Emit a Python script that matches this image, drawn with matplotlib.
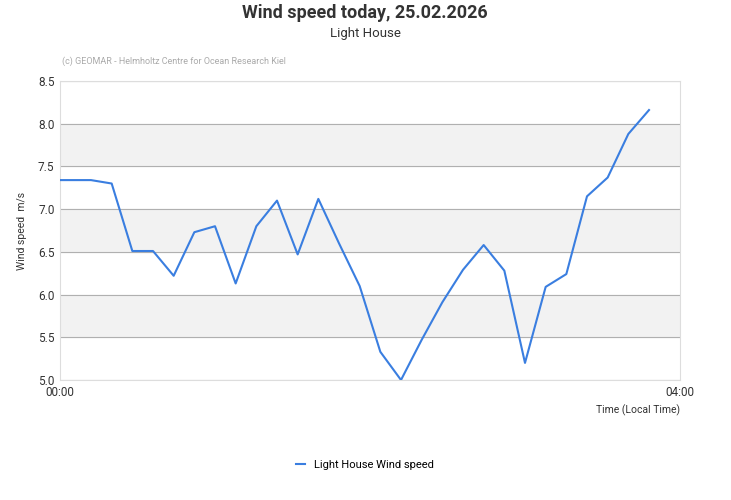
import matplotlib.pyplot as plt

minutes = [0, 12] + list(range(20, 229, 8))
speed = [7.34, 7.34, 7.30, 6.51, 6.51, 6.22, 6.73, 6.80, 6.13, 6.80, 7.10, 6.47, 7.12,
         6.60, 6.10, 5.33, 5.00, 5.47, 5.91, 6.29, 6.58, 6.28, 5.20, 6.09, 6.24, 7.15,
         7.37, 7.88, 8.16]
yticks = [5.0, 5.5, 6.0, 6.5, 7.0, 7.5, 8.0, 8.5]

plt.rcParams['font.family'] = ['Roboto', 'DejaVu Sans']
fig = plt.figure(figsize=(7.31, 5.0), dpi=100)
ax = fig.add_axes([60 / 731, 1 - 380 / 500, 620 / 731, 299 / 500])

for lo in (5.5, 6.5, 7.5):
    ax.axhspan(lo, lo + 0.5, color='#f2f2f2', zorder=0)
for y in yticks:
    ax.axhline(y, color='#b0b0b0', lw=0.8, zorder=1)

ax.plot(minutes, speed, color='#3a7ee0', lw=1.5, zorder=3, label='Light House Wind speed')
ax.set_xlim(0, 240)
ax.set_ylim(5.0, 8.5)
ax.set_yticks(yticks)
ax.set_yticklabels([f'{v:.1f}' for v in yticks], fontsize=8.5, color='#333333')
ax.set_xticks([0, 240])
ax.set_xticklabels(['00:00', '04:00'], fontsize=8.5, color='#333333')
ax.tick_params(length=0, pad=4)
for s in ax.spines.values():
    s.set_color('#dddddd')
ax.set_ylabel('Wind speed  m/s', fontsize=7.5, color='#333333', labelpad=8)
ax.text(1.0, -0.1, 'Time (Local Time)', transform=ax.transAxes, ha='right', va='center',
        fontsize=7.5, color='#333333')

fig.text(365 / 731, 1 - 13 / 500, 'Wind speed today, 25.02.2026', ha='center', va='center',
         fontsize=13, fontweight='bold', color='#333333')
fig.text(365 / 731, 1 - 33 / 500, 'Light House', ha='center', va='center', fontsize=9.5, color='#333333')
fig.text(62 / 731, 1 - 61 / 500, '(c) GEOMAR - Helmholtz Centre for Ocean Research Kiel',
         ha='left', va='center', fontsize=6.5, color='#aaaaaa')

fig.legend(loc='center', bbox_to_anchor=(365 / 731, 1 - 465 / 500), frameon=False,
           fontsize=8, handlelength=0.8)

fig.savefig('out.png', dpi=100)
